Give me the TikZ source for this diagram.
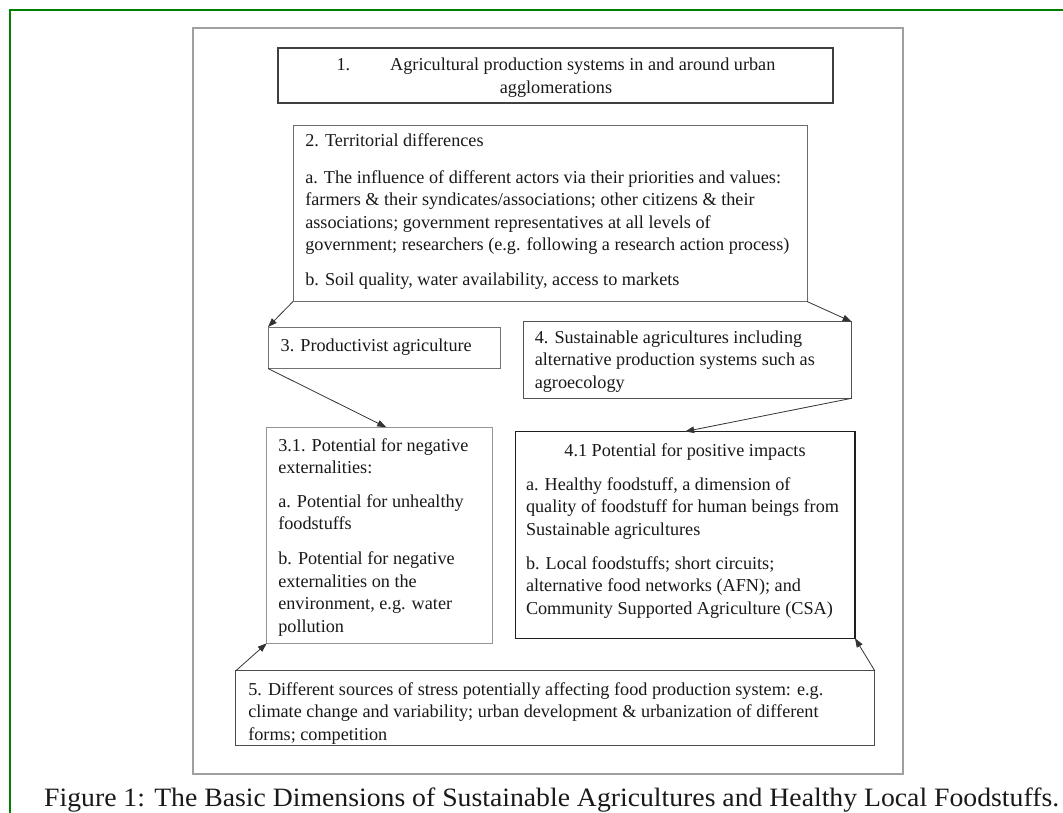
\documentclass[tikz,border=0pt]{standalone}
\usepackage{fontspec}
\setmainfont{Liberation Serif}
\newfontfamily\capfont[FakeStretch=1.046]{Liberation Serif}
\usetikzlibrary{arrows.meta,calc}
\definecolor{frameg}{RGB}{0,128,0}
\definecolor{outerg}{RGB}{160,160,160}
\newcommand\lnh{\rule{0pt}{12.8bp}}
\begin{document}
\begin{tikzpicture}[x=1bp,y=-1bp,
  box/.style={draw, rectangle, inner sep=0pt, outer sep=0pt, anchor=north west},
  txt/.style={inner sep=0pt, outer sep=0pt, anchor=north west, align=left, text=black!90,
              font=\fontsize{18.2bp}{22.5bp}\selectfont},
  conn/.style={draw=black!80, line width=0.8bp, -{Triangle[length=9bp,width=6.5bp]}},
]
\useasboundingbox (0,0) rectangle (1063,813);
\fill[white] (0,0) rectangle (1063,813);
% frames
\draw[frameg, line width=2.5bp] (10,813) -- (10,10) -- (1063,10);
\draw[outerg, line width=1.5bp] (193,28) rectangle (903,774);
% boxes
\node[box, draw=black!75, line width=1.3bp, minimum width=555bp, minimum height=55bp] (b1) at (278,48) {};
\node[box, draw=black!58, line width=1bp, minimum width=514bp, minimum height=176.5bp] (b2) at (293,125) {};
\node[box, draw=black!55, line width=1bp, minimum width=232.5bp, minimum height=41.5bp] (b3) at (268,327) {};
\node[box, draw=black!68, line width=1bp, minimum width=328bp, minimum height=76.6bp] (b4) at (523.6,321.7) {};
\node[box, draw=black!42, line width=1bp, minimum width=225.6bp, minimum height=216bp] (b31) at (266.7,427.3) {};
\node[box, draw=black!88, line width=1.5bp, minimum width=339.7bp, minimum height=206.8bp] (b41) at (515.3,431.5) {};
\node[box, draw=black!70, line width=1.2bp, minimum width=639bp, minimum height=75bp] (b5) at (235.8,670.8) {};
% texts
\node[txt, anchor=north, align=center] (t1) at (556,58.2)
  {\lnh 1.\hspace{40bp}Agricultural production systems in and around urban\\agglomerations};
\node[txt] (t2) at (305.3,133.2)
  {\lnh 2. Territorial differences\\[14.5bp]
   a. The influence of different actors via their priorities and values:\\
   farmers \& their syndicates/associations; other citizens \& their\\
   associations; government representatives at all levels of\\
   government; researchers (e.g. following a research action process)\\[12.5bp]
   b. Soil quality, water availability, access to markets};
\node[txt] (t3) at (280.7,338.2) {\lnh 3. Productivist agriculture};
\node[txt] (t4) at (534.8,330.2)
  {\lnh 4. Sustainable agricultures including\\
   alternative production systems such as\\
   agroecology};
\node[txt] (t31) at (278.3,438.2)
  {\lnh 3.1. Potential for negative\\
   externalities:\\[11bp]
   a. Potential for unhealthy\\
   foodstuffs\\[12.5bp]
   b. Potential for negative\\
   externalities on the\\
   environment, e.g. water\\
   pollution};
\node[txt, anchor=north, align=center] (t41h) at (685,443.2) {\lnh 4.1 Potential for positive impacts};
\node[txt] (t41) at (526,477.2)
  {\lnh a. Healthy foodstuff, a dimension of\\
   quality of foodstuff for human beings from\\
   Sustainable agricultures\\[11.5bp]
   b. Local foodstuffs; short circuits;\\
   alternative food networks (AFN); and\\
   Community Supported Agriculture (CSA)};
\node[txt] (t5) at (248.3,682.2)
  {\lnh 5. Different sources of stress potentially affecting food production system: e.g.\\
   climate change and variability; urban development \& urbanization of different\\
   forms; competition};
% connectors
\draw[conn] (b2.south west) -- (b3.north west);
\draw[conn] (b2.south east) -- (b4.north east);
\draw[conn] (b3.south west) -- ($(b31.north west)!0.53!(b31.north east)$);
\draw[conn] (b4.south east) -- (b41.north);
\draw[conn] (b5.north west) -- (b31.south west);
\draw[conn] (b5.north east) -- (b41.south east);
% caption
\node[inner sep=0pt, anchor=base west, text=black!90, font=\capfont\fontsize{26.5bp}{30bp}\selectfont] (cap) at (44,806)
  {Figure 1: The Basic Dimensions of Sustainable Agricultures and Healthy Local Foodstuffs.};
\end{tikzpicture}
\end{document}
